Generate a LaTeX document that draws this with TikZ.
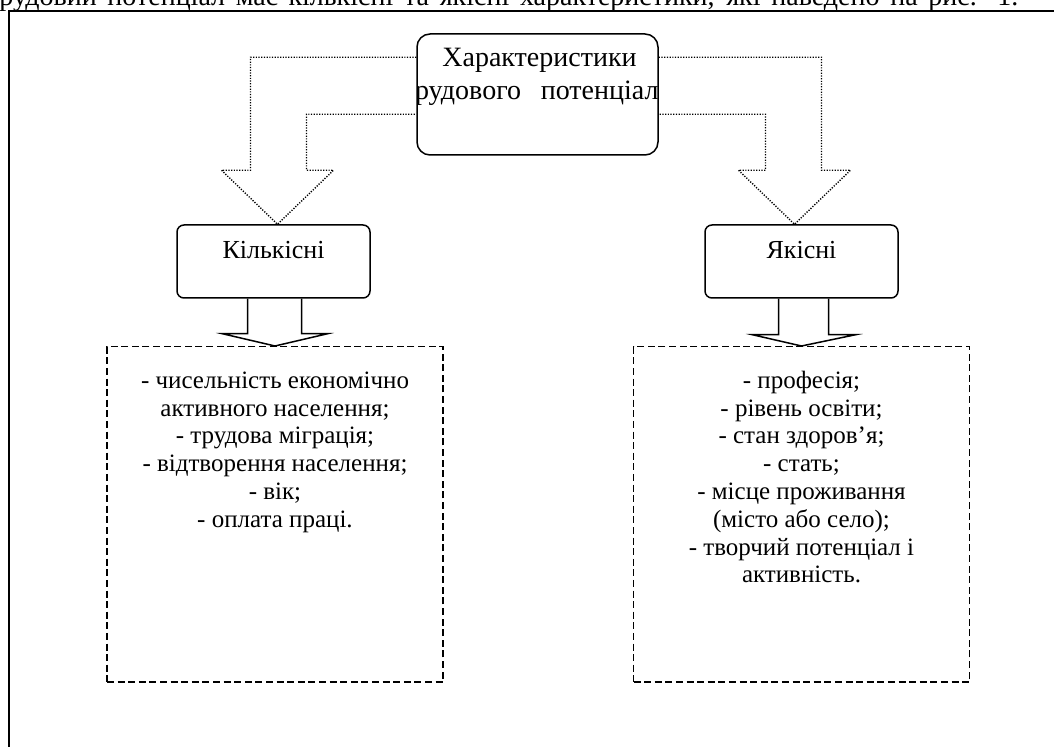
\documentclass[tikz,border=0pt]{standalone}
\usepackage{fontspec}
\setmainfont{Liberation Serif}
\usetikzlibrary{calc}

\tikzset{
  heading/.style={draw, rounded corners=6.5pt, line width=0.75pt,
    minimum width=120.5pt, minimum height=60.5pt, inner sep=0pt},
  kindbox/.style={draw, rounded corners=3.5pt, line width=0.75pt,
    minimum width=96.5pt, text height=17pt, text depth=19.5pt,
    inner ysep=0pt, font=\fontsize{13}{15}\selectfont},
  listbox/.style={draw, dash pattern=on 3.5pt off 1.8pt, line width=0.75pt,
    inner sep=0pt, font=\fontsize{12.5}{13.9}\selectfont},
  dotarrow/.style={line width=0.7pt, dash pattern=on 0.6pt off 0.75pt},
  blockarrow/.style={line width=0.75pt}
}

\begin{document}
\begin{tikzpicture}[x=0.5pt, y=-0.5pt]
  \useasboundingbox (0,0) rectangle (1054,747);
  \clip (0,0) rectangle (1054,747);

  % line of text above the frame, cut by the edge
  \node (intro) [anchor=base west, inner sep=0pt, font=\fontsize{14}{16}\selectfont] at (-17,6)
    {\makebox[517.5pt][s]{Трудовий потенціал має кількісні та якісні характеристики, які наведено на рис. 1.}};
  \draw[line width=1pt] (1054,11) -- (9,11) -- (9,747);

  \node (title) [heading, path picture={
      \node[anchor=base, inner sep=0pt, font=\fontsize{14}{16}\selectfont]
        at ($(path picture bounding box.north)+(2,33)$) {Характеристики};
      \node[anchor=base, inner sep=0pt, font=\fontsize{14}{16}\selectfont]
        at ($(path picture bounding box.north)+(0,66)$) {\makebox[135pt][s]{трудового потенціалу}};
    }] at (537.5,94.5) {};

  \node (kil) [kindbox, anchor=base] at (273.5,259) {Кількісні};
  \node (yak) [kindbox, anchor=base] at (801.5,259) {Якісні};

  \node (killist) [listbox, anchor=north] at (275,346) {\parbox[t][167.5pt][t]{168pt}{\centering
    \vspace*{11pt}\strut - чисельність економічно\\
    активного населення;\\
    - трудова міграція;\\
    - відтворення населення;\\
    - вік;\\
    - оплата праці.}};
  \node (yaklist) [listbox, anchor=north] at (801.5,346) {\parbox[t][167.5pt][t]{168pt}{\centering
    \vspace*{11pt}\strut - професія;\\
    - рівень освіти;\\
    - стан здоров’я;\\
    - стать;\\
    - місце проживання\\
    (місто або село);\\
    - творчий потенціал і\\
    активність.}};

  % dotted hollow arrows
  \coordinate (ktip) at ($(kil.north)+(4,0)$);
  \coordinate (ytip) at ($(yak.north)+(-7,0)$);
  \draw[dotarrow] ($(title.north west)+(0,24)$) -| ($(ktip)+(-27,-54)$) -- ++(-29,0)
    -- (ktip) -- ($(ktip)+(56,-54)$) -- ++(-27,0) |- ($(title.north west)+(0,81)$);
  \draw[dotarrow] ($(title.north east)+(0,24)$) -| ($(ytip)+(27,-54)$) -- ++(29,0)
    -- (ytip) -- ($(ytip)+(-56,-54)$) -- ++(27,0) |- ($(title.north east)+(0,81)$);

  % solid hollow arrows
  \draw[blockarrow] ($(kil.south)+(-26,0)$) -- ++(0,35) -- ++(-25,0) -- (killist.north)
    -- ($(kil.south)+(54,35)$) -- ++(-26,0) -- ($(kil.south)+(28,0)$);
  \draw[blockarrow] ($(yak.south)+(-23,0)$) -- ++(0,36) -- ++(-26,0) -- (yaklist.north)
    -- ($(yak.south)+(54,36)$) -- ++(-27,0) -- ($(yak.south)+(27,0)$);
\end{tikzpicture}
\end{document}
